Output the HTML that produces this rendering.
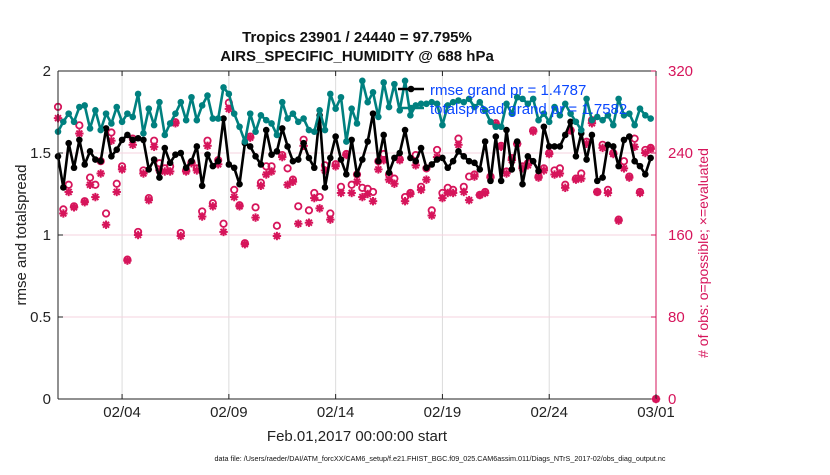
<!DOCTYPE html>
<html><head><meta charset="utf-8">
<style>
body{margin:0;background:#fff;}
svg text{font-family:"Liberation Sans",sans-serif;}
</style></head>
<body>
<svg id="chart" width="830" height="470" viewBox="0 0 830 470" xmlns="http://www.w3.org/2000/svg">
<rect width="830" height="470" fill="#fff"/>
<g id="grid"></g>
<g id="series"></g>
<g id="axes"></g>
</svg>
<script>
const rmse = [1.48,1.29,1.56,1.41,1.58,1.43,1.51,1.46,1.45,1.65,1.48,1.52,1.58,1.61,1.58,1.59,1.58,1.40,1.46,1.35,1.53,1.44,1.49,1.50,1.41,1.45,1.54,1.30,1.49,1.42,1.45,1.71,1.43,1.41,1.31,1.56,1.54,1.48,1.43,1.64,
1.49,1.51,1.65,1.54,1.45,1.46,1.56,1.47,1.41,1.73,1.29,1.47,1.60,1.46,1.37,1.58,1.37,1.46,1.57,1.74,1.45,1.61,1.38,1.47,1.50,1.64,1.47,1.45,1.53,1.41,1.43,1.46,1.47,1.41,1.45,1.51,1.48,1.45,
1.44,1.40,1.57,1.33,1.60,1.33,1.64,1.40,1.57,1.31,1.48,1.45,1.39,1.66,1.54,1.54,1.54,1.61,1.69,1.48,1.62,1.46,1.61,1.33,1.35,1.55,1.54,1.42,1.58,1.60,1.45,1.42,1.37,1.47];
const spread = [1.63,1.69,1.74,1.69,1.78,1.79,1.65,1.76,1.64,1.74,1.68,1.78,1.69,1.74,1.72,1.86,1.62,1.77,1.67,1.81,1.61,1.68,1.74,1.81,1.70,1.84,1.70,1.79,1.85,1.71,1.71,1.90,1.86,1.74,1.66,1.57,1.74,1.63,1.73,1.70,
1.68,1.61,1.81,1.71,1.74,1.69,1.71,1.64,1.63,1.76,1.64,1.86,1.77,1.84,1.57,1.77,1.68,1.94,1.81,1.87,1.72,1.93,1.78,1.92,1.76,1.94,1.73,1.79,1.80,1.80,1.81,1.80,1.67,1.79,1.81,1.82,1.81,1.83,
1.78,1.81,1.76,1.69,1.66,1.66,1.80,1.74,1.84,1.83,1.80,1.83,1.70,1.74,1.69,1.78,1.73,1.80,1.74,1.69,1.64,1.83,1.70,1.72,1.70,1.73,1.67,1.83,1.73,1.74,1.67,1.77,1.73,1.71];
const nPossible = [285,185,209,188,267,193,216,209,232,181,260,210,227,136,254,163,223,196,252,230,225,227,270,162,223,231,225,183,252,191,233,171,289,204,189,152,256,187,211,227,
227,169,238,225,214,188,253,184,201,197,228,181,229,207,239,209,219,206,205,202,232,239,219,215,234,197,201,238,207,225,184,243,201,206,204,254,207,217,
219,199,202,217,269,247,222,235,249,227,230,262,217,225,240,223,225,209,262,215,220,251,272,202,248,204,240,175,232,217,254,202,243,245,0];
const nEvaluated = [274,181,202,187,259,192,209,197,220,170,252,202,224,135,248,160,220,194,246,223,222,222,269,159,222,230,223,178,247,188,229,163,283,197,188,151,255,177,208,219,
222,159,236,209,212,171,247,172,196,186,223,175,227,201,238,201,212,197,200,193,224,233,214,210,233,193,200,228,204,214,179,236,196,201,201,248,202,194,
217,199,201,216,268,246,220,233,249,225,228,261,216,223,239,219,220,206,262,214,215,249,269,202,245,201,239,174,225,216,246,201,240,244,0];
const xTickDays = [3,8,13,18,23,28];
const xTickLabels = ["02/04","02/09","02/14","02/19","02/24","03/01"];
const yLeftTicks = [0,0.5,1,1.5,2];
const yLeftLabels = ["0","0.5","1","1.5","2"];
const yRightTicks = [0,80,160,240,320];

const L=58,R=656,T=71,B=399;
const NS="http://www.w3.org/2000/svg";
const PINK="#d6155b", TEAL="#00807f";
function X(day){return L+(R-L)*day/28;}
function YL(v){return B-(B-T)*v/2;}
function YR(v){return B-(B-T)*v/320;}
function mk(tag,attrs,parent){const e=document.createElementNS(NS,tag);for(const k in attrs)e.setAttribute(k,attrs[k]);parent.appendChild(e);return e;}
const grid=document.getElementById('grid'),ser=document.getElementById('series'),ax=document.getElementById('axes');

xTickDays.forEach((d,i)=>{const g=mk('line',{x1:X(d),x2:X(d),y1:T,y2:B,stroke:'#dcdcdc','stroke-width':1},grid);

});
yRightTicks.forEach(v=>{if(v>0&&v<320){const g=mk('line',{x1:L,x2:R,y1:YR(v),y2:YR(v),stroke:'#f6d3df','stroke-width':1},grid);

}});

function dayOf(i){return i*0.25;}
function star(cx,cy,g){const r=4.2;for(let a=0;a<4;a++){const t=a*Math.PI/4;mk('line',{x1:cx-r*Math.cos(t),y1:cy-r*Math.sin(t),x2:cx+r*Math.cos(t),y2:cy+r*Math.sin(t),stroke:PINK,'stroke-width':2},g);}}
nPossible.forEach((v,i)=>{const c=mk('circle',{cx:X(dayOf(i)),cy:YR(v),r:3.2,fill:'none',stroke:PINK,'stroke-width':1.8},ser);

});
nEvaluated.forEach((v,i)=>{const g=mk('g',{},ser);


star(X(dayOf(i)),YR(v),g);});

function series(arr,color,name){
 const pts=arr.map((v,i)=>X(dayOf(i)).toFixed(1)+','+YL(v).toFixed(1)).join(' ');
 const pl=mk('polyline',{points:pts,fill:'none',stroke:color,'stroke-width':2.6,'stroke-linejoin':'round'},ser);
 
 
 arr.forEach((v,i)=>{const c=mk('circle',{cx:X(dayOf(i)),cy:YL(v),r:3.3,fill:color},ser);
 
 });
}
series(rmse,'#000','rmse');
series(spread,TEAL,'totalspread');

mk('line',{x1:L,x2:R,y1:T,y2:T,stroke:'#222','stroke-width':1},ax);
mk('line',{x1:L,x2:L,y1:T,y2:B,stroke:'#222','stroke-width':1},ax);
mk('line',{x1:L,x2:R,y1:B,y2:B,stroke:'#222','stroke-width':1},ax);
mk('line',{x1:R,x2:R,y1:T,y2:B,stroke:PINK,'stroke-width':1},ax);
xTickDays.forEach((d,i)=>{mk('line',{x1:X(d),x2:X(d),y1:B,y2:B-5,stroke:'#222'},ax);mk('line',{x1:X(d),x2:X(d),y1:T,y2:T+5,stroke:'#222'},ax);
 const t=mk('text',{x:X(d),y:417,'text-anchor':'middle','font-size':15,fill:'#222'},ax);t.textContent=xTickLabels[i];
 
 });
yLeftTicks.forEach((v,i)=>{mk('line',{x1:L,x2:L+5,y1:YL(v),y2:YL(v),stroke:'#222'},ax);
 const t=mk('text',{x:51,y:YL(v)+5,'text-anchor':'end','font-size':15,fill:'#222'},ax);t.textContent=yLeftLabels[i];
 
 });
yRightTicks.forEach(v=>{mk('line',{x1:R-5,x2:R,y1:YR(v),y2:YR(v),stroke:PINK},ax);
 const t=mk('text',{x:668,y:YR(v)+5,'text-anchor':'start','font-size':15,fill:PINK},ax);t.textContent=String(v);
 
 });
</script>
<svg style="position:absolute;left:0;top:0" width="830" height="470">
<text x="357" y="42" text-anchor="middle" font-size="15" font-weight="bold" fill="#111">Tropics 23901 / 24440 = 97.795%</text>
<text x="357" y="61" text-anchor="middle" font-size="15" font-weight="bold" fill="#111">AIRS_SPECIFIC_HUMIDITY @ 688 hPa</text>
<g>
<line x1="398" y1="89" x2="424" y2="89" stroke="#000" stroke-width="2.6"/><circle cx="411" cy="89" r="3.3" fill="#000"/>
<line x1="398" y1="108" x2="424" y2="108" stroke="#00807f" stroke-width="2.6"/><circle cx="411" cy="108" r="3.3" fill="#00807f"/>
<text x="430" y="95" font-size="15" fill="#0a47ff">rmse grand pr = 1.4787</text>
<text x="430" y="114" font-size="15" fill="#0a47ff">totalspread grand pr = 1.7582</text>
</g>
<text transform="translate(26,235) rotate(-90)" text-anchor="middle" font-size="15" fill="#222">rmse and totalspread</text>
<text transform="translate(708,253) rotate(-90)" text-anchor="middle" font-size="14" fill="#d6155b"># of obs: o=possible; ×=evaluated</text>
<text x="357" y="441" text-anchor="middle" font-size="15" fill="#222">Feb.01,2017 00:00:00 start</text>
<text x="440" y="461" text-anchor="middle" font-size="7.2" fill="#111">data file: /Users/raeder/DAI/ATM_forcXX/CAM6_setup/f.e21.FHIST_BGC.f09_025.CAM6assim.011/Diags_NTrS_2017-02/obs_diag_output.nc</text>
</svg>
</body></html>
